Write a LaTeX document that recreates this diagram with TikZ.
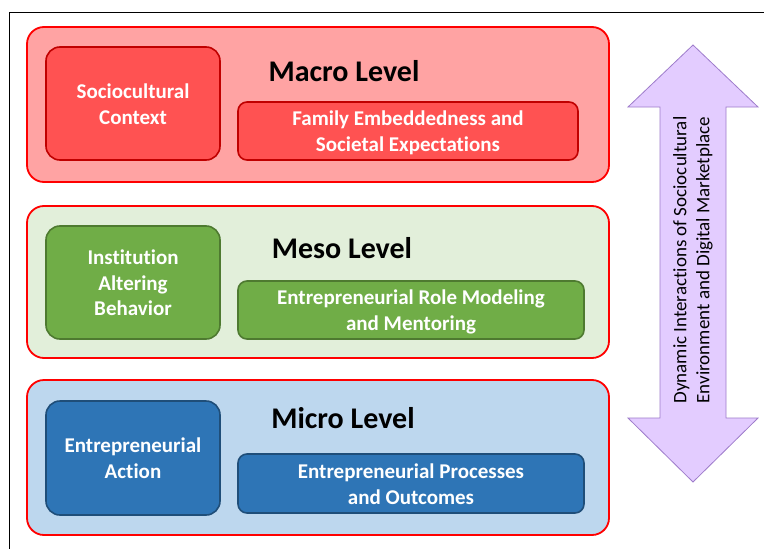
\documentclass[tikz,border=0pt]{standalone}
\usepackage{fontspec}
\setmainfont{Carlito}[Ligatures=NoCommon]
\definecolor{macroO}{HTML}{FFA3A3}
\definecolor{macroI}{HTML}{FF5252}
\definecolor{macroD}{HTML}{C00000}
\definecolor{mesoO}{HTML}{E2EFDA}
\definecolor{mesoI}{HTML}{70AD47}
\definecolor{mesoD}{HTML}{4E7A30}
\definecolor{microO}{HTML}{BDD7EE}
\definecolor{microI}{HTML}{2E75B6}
\definecolor{microD}{HTML}{1F4E79}
\definecolor{arrF}{HTML}{E3CCFF}
\definecolor{arrD}{HTML}{9E7CCB}
\begin{document}
\begin{tikzpicture}[x=1pt,y=-1pt,
  outerbox/.style={draw=red,line width=1.8pt,rounded corners=17pt},
  bigbox/.style={draw=#1,line width=1.6pt,rounded corners=14pt},
  smallbox/.style={draw=#1,line width=1.6pt,rounded corners=9pt},
  intext/.style={text=white,font=\bfseries\fontsize{21}{25.5}\selectfont,align=center},
  leveltext/.style={font=\bfseries\fontsize{30}{34}\selectfont}]
\useasboundingbox (0,0) rectangle (764,549);
\fill[white] (0,0) rectangle (764,549);
\draw[line width=1pt] (9.5,600) -- (9.5,12.5) -- (800,12.5);
% Macro
\draw[outerbox,fill=macroO] (27,27) rectangle (609,182);
\draw[bigbox=macroD,fill=macroI] (46,47) rectangle (220,160);
\node[intext] (soc) at (133,104) {Sociocultural\\Context};
\draw[smallbox=macroD,fill=macroI] (238,102) rectangle (578,160);
\node[intext] (fam) at (408,133) {Family Embeddedness and\\Societal Expectations};
\node[leveltext] (macro) at (344,71) {Macro Level};
% Meso
\draw[outerbox,fill=mesoO] (27,206) rectangle (609,358);
\draw[bigbox=mesoD,fill=mesoI] (46,226) rectangle (220,339);
\node[intext] (inst) at (133,283) {Institution\\Altering\\Behavior};
\draw[smallbox=mesoD,fill=mesoI] (238,281) rectangle (584,339);
\node[intext] (role) at (411,312) {Entrepreneurial Role Modeling\\and Mentoring};
\node[leveltext] (meso) at (342,248) {Meso Level};
% Micro
\draw[outerbox,fill=microO] (27,380) rectangle (609,535);
\draw[bigbox=microD,fill=microI] (46,401) rectangle (220,515);
\node[intext] (act) at (133,458) {Entrepreneurial\\Action};
\draw[smallbox=microD,fill=microI] (238,454) rectangle (584,513);
\node[intext] (proc) at (411,484) {Entrepreneurial Processes\\and Outcomes};
\node[leveltext] (micro) at (343,418) {Micro Level};
% Arrow
\draw[draw=arrD,fill=arrF,line width=0.8pt] (693,45) -- (758,107) -- (726,107) -- (726,418) -- (758,418) -- (693,482) -- (628,418) -- (660,418) -- (660,107) -- (628,107) -- cycle;
\node[rotate=90,align=center,font=\fontsize{19}{23}\selectfont] (dyn) at (693,260) {Dynamic Interactions of Sociocultural\\Environment and Digital Marketplace};
\end{tikzpicture}
\end{document}
